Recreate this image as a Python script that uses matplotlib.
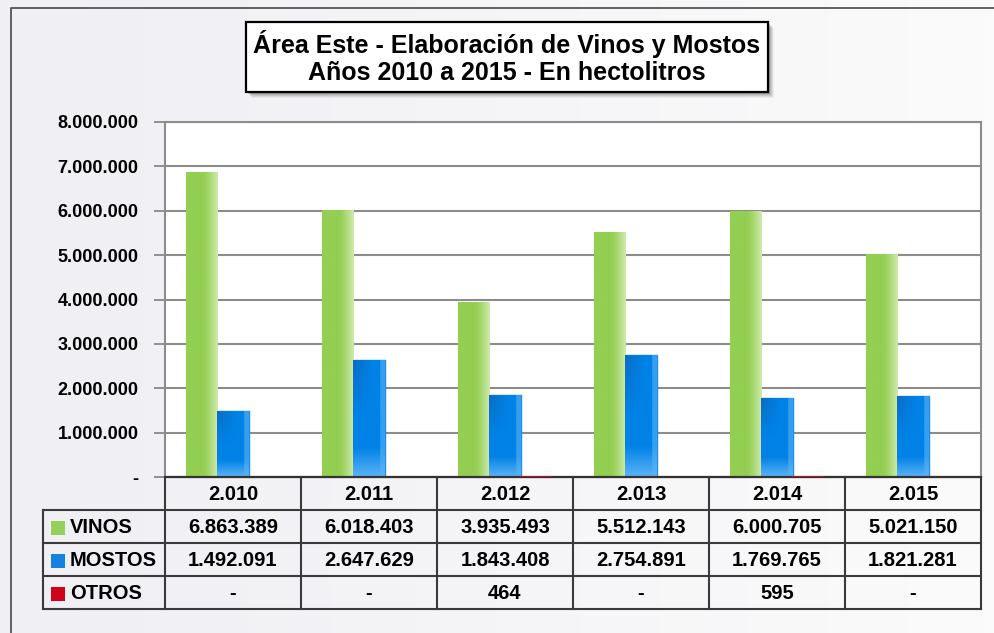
import numpy as np
import matplotlib
matplotlib.use("Agg")
import matplotlib.pyplot as plt
from matplotlib.patches import Rectangle
from matplotlib.colors import to_rgb

# ---- data ----
years = ["2.010", "2.011", "2.012", "2.013", "2.014", "2.015"]
vinos = [6863389, 6018403, 3935493, 5512143, 6000705, 5021150]
mostos = [1492091, 2647629, 1843408, 2754891, 1769765, 1821281]
otros = [0, 0, 464, 0, 595, 0]
series_names = ["VINOS", "MOSTOS", "OTROS"]
yticks = [0, 1000000, 2000000, 3000000, 4000000, 5000000, 6000000, 7000000, 8000000]
title_lines = ["Área Este - Elaboración de Vinos y Mostos", "Años 2010 a 2015 - En hectolitros"]

FONT = "Liberation Sans"
plt.rcParams["font.family"] = [FONT, "DejaVu Sans"]

def fmt(v):
    return f"{v:,}".replace(",", ".") if v else "-"

W, H = 995, 633
fig = plt.figure(figsize=(W / 100, H / 100), dpi=100)

# background axes in pixel coordinates
bg = fig.add_axes([0, 0, 1, 1], zorder=0)
bg.set_xlim(0, W)
bg.set_ylim(H, 0)
bg.axis("off")
grad = np.linspace(0, 1, 256)[None, :, None]
c0 = np.array([239, 239, 244]) / 255
c1 = np.array([251, 251, 251]) / 255
bg.imshow(c0 + (c1 - c0) * grad, extent=[0, W, H, 0], aspect="auto", zorder=0)

# outer frame (left & top)
bg.plot([11, 11, W + 5], [H + 5, 8, 8], color="#555555", lw=1.3, zorder=1)

# title box with shadow
bx0, by0, bx1, by1 = 246, 22, 768, 92
for k, a in zip(range(6, 0, -1), [0.06, 0.08, 0.1, 0.14, 0.2, 0.3]):
    bg.add_patch(Rectangle((bx0 + k, by0 + k), bx1 - bx0, by1 - by0,
                           facecolor="#333333", edgecolor="none", alpha=a, zorder=2))
bg.add_patch(Rectangle((bx0, by0), bx1 - bx0, by1 - by0, facecolor="white",
                       edgecolor="black", lw=1.6, zorder=3))
bg.text((bx0 + bx1) / 2, 44, title_lines[0], ha="center", va="center",
        fontsize=18, fontweight="bold", zorder=4)
bg.text((bx0 + bx1) / 2, 73, title_lines[1], ha="center", va="center",
        fontsize=18, fontweight="bold", zorder=4)

# main axes
L, R, T, B = 165, 981, 122, 477
ax = fig.add_axes([L / W, (H - B) / H, (R - L) / W, (B - T) / H], zorder=1)
ax.set_facecolor("white")
ax.set_xlim(-0.5, len(years) - 0.5)
ax.set_ylim(0, 8000000)
ax.set_yticks(yticks)
ax.set_yticklabels([fmt(v) for v in yticks], fontsize=13, fontweight="bold")
ax.tick_params(axis="y", length=8, width=1.2, color="#808080", pad=11)
ax.set_xticks([])
ax.grid(axis="y", color="#8c8c8c", lw=1.5)
ax.set_axisbelow(True)
for s in ["left", "right", "top"]:
    ax.spines[s].set_color("#8c8c8c")
    ax.spines[s].set_linewidth(1.5)
ax.spines["bottom"].set_color("#333333")
ax.spines["bottom"].set_linewidth(1.6)

x = np.arange(len(years))
bw = 0.235
off = 0.225

def gradient_img(kind):
    nx, ny = 40, 100
    u = np.linspace(0, 1, nx)[None, :]
    v = np.linspace(0, 1, ny)[:, None]  # 0 top, 1 bottom
    if kind == "g":
        base = np.array(to_rgb("#93cf52"))
        light = np.array(to_rgb("#cfe9ac"))
        t = np.clip((u - 0.55) / 0.45, 0, 1) ** 1.2 * np.ones_like(v)
        img = base * (1 - t[..., None]) + light * t[..., None]
    else:
        dark = np.array(to_rgb("#0a6cc4"))
        base = np.array(to_rgb("#0082e6"))
        light = np.array(to_rgb("#5ab3f6"))
        t = np.clip(1 - u / 0.6, 0, 1) * np.clip(1 - v / 0.5, 0, 1) * np.ones_like(v)
        img = base * (1 - t[..., None]) + dark * t[..., None]
        tb = np.clip((v - 0.75) / 0.25, 0, 1) * np.ones_like(u)
        img = img * (1 - tb[..., None]) + light * tb[..., None]
        tr = (u > 0.85) * 0.6 * np.ones_like(v)
        img = img * (1 - tr[..., None]) + light * tr[..., None]
    return img

imgs = {"g": gradient_img("g"), "b": gradient_img("b")}
bars_v = ax.bar(x - off, vinos, bw, color="#93cf52", edgecolor="none", zorder=2)
bars_m = ax.bar(x, mostos, bw, color="#0082e6", edgecolor="#1a8ff0", lw=1, zorder=2)
bars_o = ax.bar(x + off, otros, bw, color="#d0021b", edgecolor="#d0021b", lw=1.2, zorder=3)
for bars, key in [(bars_v, "g"), (bars_m, "b")]:
    for b in bars:
        bx, by, bwid, bh = b.get_x(), b.get_y(), b.get_width(), b.get_height()
        im = ax.imshow(imgs[key], extent=[bx, bx + bwid, by, by + bh],
                       aspect="auto", zorder=2.5, interpolation="bilinear")
        im.set_clip_path(b)
for b, v in zip(bars_o, otros):
    b.set_visible(v > 0)

# ---- table under axes (pixel coordinates on bg) ----
fig.canvas.draw()
inv = bg.transData.inverted()
def px(xd):
    d = ax.transData.transform((xd, 0))
    return inv.transform(d)[0]

col_edges = [px(i - 0.5) for i in range(len(years) + 1)]
col_cent = [px(i) for i in range(len(years))]
row_h = 33
rows_y = [B + row_h * k for k in range(5)]  # 477,510,543,576,609
lab_x0 = 43
lc = "#3a3a3a"
lw = 1.5
# horizontal lines
bg.plot([col_edges[0], col_edges[-1]], [rows_y[0]] * 2, color=lc, lw=lw, zorder=5)
for yy in rows_y[1:]:
    bg.plot([lab_x0, col_edges[-1]], [yy] * 2, color=lc, lw=lw, zorder=5)
# vertical lines
for xe in col_edges:
    bg.plot([xe, xe], [rows_y[0], rows_y[-1]], color=lc, lw=lw, zorder=5)
bg.plot([lab_x0, lab_x0], [rows_y[1], rows_y[-1]], color=lc, lw=lw, zorder=5)

tfs = 14.5
for i, yr in enumerate(years):
    bg.text(col_cent[i], (rows_y[0] + rows_y[1]) / 2 + 1, yr, ha="center", va="center",
            fontsize=tfs, fontweight="bold", zorder=6)
key_colors = ["#94d05a", "#1582e0", "#d0021b"]
for r, (name, vals, kc) in enumerate(zip(series_names, [vinos, mostos, otros], key_colors)):
    yc = (rows_y[r + 1] + rows_y[r + 2]) / 2 + 1
    bg.add_patch(Rectangle((51, yc - 7), 14, 14, facecolor=kc, edgecolor="none", zorder=6))
    bg.text(70, yc, name, ha="left", va="center", fontsize=tfs, fontweight="bold", zorder=6)
    for i, v in enumerate(vals):
        bg.text(col_cent[i], yc, fmt(v), ha="center", va="center",
                fontsize=tfs, fontweight="bold", zorder=6)

fig.savefig("out.png", dpi=100)
